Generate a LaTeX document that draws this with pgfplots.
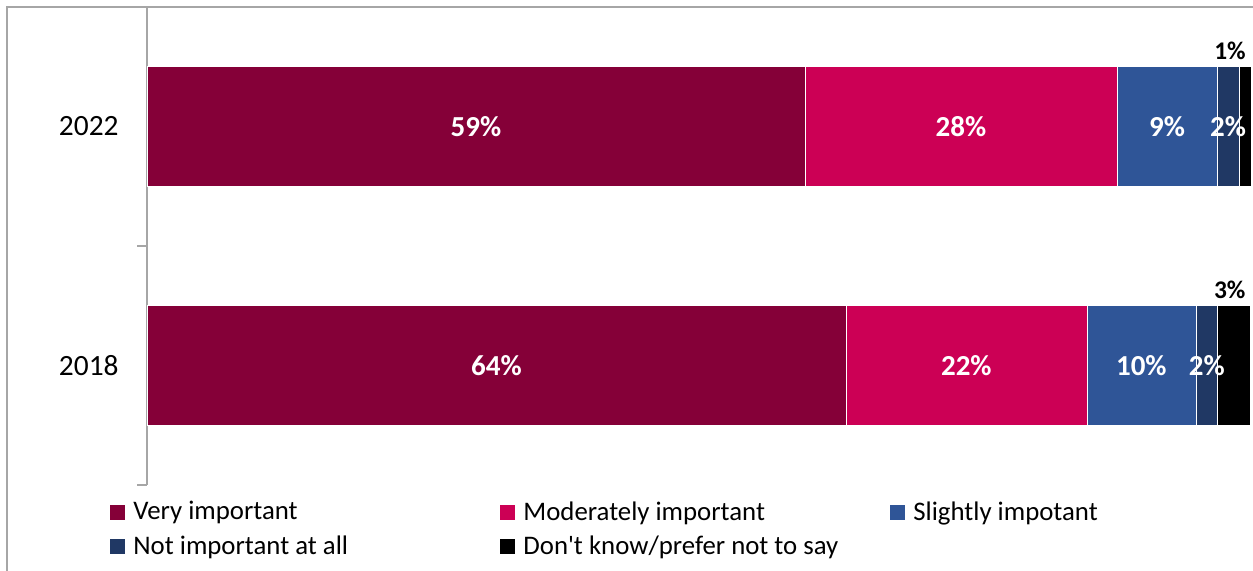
\documentclass[border=0pt]{standalone}
\usepackage{fontspec}
\setmainfont{Carlito}
\usepackage{pgfplots}
\pgfplotsset{compat=1.18}
\definecolor{c1}{HTML}{850038}
\definecolor{c2}{HTML}{CC0055}
\definecolor{c3}{HTML}{2F5597}
\definecolor{c4}{HTML}{203864}
\definecolor{c5}{HTML}{000000}
\definecolor{framec}{HTML}{A6A6A6}
\newcommand{\lent}[1]{\hspace{4pt}\makebox[183.5pt][l]{#1}}
\pgfplotstableread{
x y lab sh
2.99 0 3 -2.25
1.09 1 1 -7.5
}\lastdata
\begin{document}
\begin{tikzpicture}[x=1pt,y=1pt]
\useasboundingbox (0,0) rectangle (626.5,285.5);
\draw[framec, line width=0.75pt] (3.5,-20) rectangle (660,282);
\begin{axis}[
  at={(73.5pt,43pt)}, anchor=south west,
  scale only axis, width=552pt, height=239pt,
  xbar stacked, bar width=60pt,
  xmin=0, xmax=100, ymin=-0.5, ymax=1.5,
  clip=false,
  axis x line=none,
  axis y line*=left,
  y axis line style={framec, line width=0.75pt},
  ytick={0,1}, yticklabels={2018,2022},
  major tick length=0pt,
  ytick style={framec, line width=0.75pt},
  yticklabel style={font=\fontsize{14.7}{16}\selectfont, inner sep=0pt, xshift=-14pt},
  extra y ticks={-0.5,0.5,1.5}, extra y tick labels={},
  extra y tick style={major tick length=5pt, tick align=outside},
  point meta=explicit symbolic,
  nodes near coords={\pgfplotspointmeta\%},
  every node near coord/.append style={white, font=\fontsize{14.5}{16}\selectfont\bfseries},
  legend image code/.code={\fill[#1, draw=none] (0pt,-3.75pt) rectangle (7.5pt,3.75pt);},
  legend columns=3,
  legend style={at={(0,0)}, anchor=north west, xshift=-18.5pt, yshift=-8pt,
    draw=none, fill=none, inner sep=0pt, column sep=0pt, row sep=6.5pt,
    font=\fontsize{13.4}{16}\selectfont,
    nodes={inner sep=0pt, anchor=west}},
]
\addplot[fill=c1, draw=white, line width=0.3pt] coordinates {(63.3,0)[64] (59.6,1)[59]};
\addlegendentry{\lent{Very important}}
\addplot[fill=c2, draw=white, line width=0.3pt] coordinates {(21.83,0)[22] (28.26,1)[28]};
\addlegendentry{\lent{Moderately important}}
\addplot[fill=c3, draw=white, line width=0.3pt] coordinates {(9.87,0)[10] (9.06,1)[9]};
\addlegendentry{\lent{Slightly impotant}}
\addplot[fill=c4, draw=white, line width=0.3pt] coordinates {(1.99,0)[2] (1.99,1)[2]};
\addlegendentry{\lent{Not important at all}}
\addplot[fill=c5, draw=white, line width=0.3pt,
  visualization depends on={\thisrow{sh} \as \labshift},
  every node near coord/.append style={black, yshift=38pt, xshift=\labshift pt, font=\fontsize{12.7}{14}\selectfont\bfseries}]
  table[x=x, y=y, meta=lab] {\lastdata};
\addlegendentry{\lent{Don\textquotesingle t know/prefer not to say}}
\end{axis}
\end{tikzpicture}
\end{document}
